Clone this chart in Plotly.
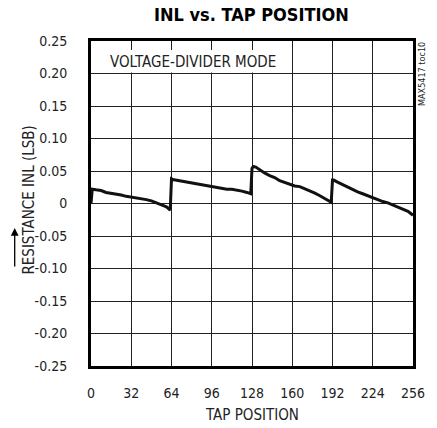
import plotly.graph_objects as go

# ---- data ----
tap = [0, 1, 4, 8, 12, 16, 20, 24, 28, 32, 36, 40, 44, 48, 52, 56, 60, 63,
       64, 65, 68, 72, 76, 80, 84, 88, 92, 96, 100, 104, 108, 112, 116, 120, 124, 127,
       128, 129, 131, 134, 138, 142, 146, 150, 154, 158, 162, 166, 170, 174, 178, 182, 186, 190, 191,
       192, 193, 196, 200, 204, 208, 212, 216, 220, 224, 228, 232, 236, 240, 244, 248, 252, 256]
inl = [0.000, 0.022, 0.021, 0.020, 0.017, 0.016, 0.014, 0.013, 0.011, 0.010, 0.009, 0.007, 0.006, 0.004, 0.001, -0.002, -0.005, -0.010,
       0.038, 0.037, 0.036, 0.034, 0.033, 0.032, 0.030, 0.029, 0.028, 0.026, 0.025, 0.024, 0.022, 0.022, 0.021, 0.019, 0.017, 0.015,
       0.054, 0.057, 0.056, 0.052, 0.047, 0.043, 0.040, 0.035, 0.032, 0.029, 0.027, 0.026, 0.023, 0.020, 0.016, 0.012, 0.008, 0.004, 0.002,
       0.036, 0.036, 0.033, 0.029, 0.026, 0.022, 0.018, 0.015, 0.012, 0.008, 0.006, 0.003, 0.001, -0.002, -0.005, -0.008, -0.012, -0.018]

x_ticks = [0, 32, 64, 96, 128, 160, 192, 224, 256]
y_ticks = [0.25, 0.20, 0.15, 0.10, 0.05, 0, -0.05, -0.10, -0.15, -0.20, -0.25]
y_tick_text = ["0.25", "0.20", "0.15", "0.10", "0.05", "0", "-0.05", "-0.10", "-0.15", "-0.20", "-0.25"]

FONT = "Liberation Sans Narrow, DejaVu Sans Condensed, Roboto, sans-serif"

fig = go.Figure()
fig.add_trace(go.Scatter(x=tap, y=inl, mode="lines",
                         line=dict(color="#111111", width=3), showlegend=False))

L, R, T, B = 91, 21, 41, 62
W, H = 437, 428
pw, ph = W - L - R, H - T - B

fig.update_layout(
    width=W, height=H,
    margin=dict(l=L, r=R, t=T, b=B, pad=0),
    paper_bgcolor="white", plot_bgcolor="white",
    font=dict(family=FONT, size=14, color="#222222"),
    xaxis=dict(range=[0, 256], tickvals=x_ticks, showgrid=True, gridcolor="#222222", gridwidth=1,
               showline=True, linecolor="black", linewidth=3, mirror=True, ticks="",
               ticklabelstandoff=12, zeroline=False, fixedrange=True),
    yaxis=dict(range=[-0.25, 0.25], tickvals=y_ticks, ticktext=y_tick_text, showgrid=True,
               gridcolor="#222222", gridwidth=1, showline=True, linecolor="black", linewidth=3,
               mirror=True, ticks="", ticklabelstandoff=18, zeroline=False, fixedrange=True),
)

# white box behind the mode label
fig.add_shape(type="rect", xref="x", yref="y", x0=2, x1=150, y0=0.2015, y1=0.236,
              fillcolor="white", line=dict(width=0), layer="above")

def px2paper(px, py):
    return (px - L) / pw, (H - B - py) / ph

ann = []
ax_, ay_ = px2paper(253, 14)
ann.append(dict(text="<b>INL vs. TAP POSITION</b>", x=ax_, y=ay_, xref="paper", yref="paper",
                showarrow=False, font=dict(size=18, color="black", family=FONT),
                xanchor="center", yanchor="middle"))
ax_, ay_ = px2paper(108, 62)
ann.append(dict(text="VOLTAGE-DIVIDER MODE", x=ax_, y=ay_, xref="paper", yref="paper",
                showarrow=False, font=dict(size=15, color="#222222", family=FONT),
                xanchor="left", yanchor="middle"))
ax_, ay_ = px2paper(253, 415)
ann.append(dict(text="TAP POSITION", x=ax_, y=ay_, xref="paper", yref="paper",
                showarrow=False, font=dict(size=15, color="#222222", family=FONT),
                xanchor="center", yanchor="middle"))
ax_, ay_ = px2paper(28, 200)
ann.append(dict(text="RESISTANCE INL (LSB)", x=ax_, y=ay_, xref="paper", yref="paper",
                showarrow=False, textangle=-90, font=dict(size=15, color="#222222", family=FONT),
                xanchor="center", yanchor="middle"))
ax_, ay_ = px2paper(425, 74)
ann.append(dict(text="MAX5417 toc10", x=ax_, y=ay_, xref="paper", yref="paper",
                showarrow=False, textangle=-90, font=dict(size=9, color="#222222", family=FONT),
                xanchor="center", yanchor="middle"))
ax_, ay_ = px2paper(14, 228)
ann.append(dict(text="", x=ax_, y=ay_, xref="paper", yref="paper", showarrow=True,
                ax=0, ay=40, arrowhead=2, arrowsize=1.2, arrowwidth=1.3, arrowcolor="black"))
fig.update_layout(annotations=ann)

fig.write_html("out.html", config={"displayModeBar": False},
               post_script="document.body.style.margin='0';document.body.style.padding='0';")
